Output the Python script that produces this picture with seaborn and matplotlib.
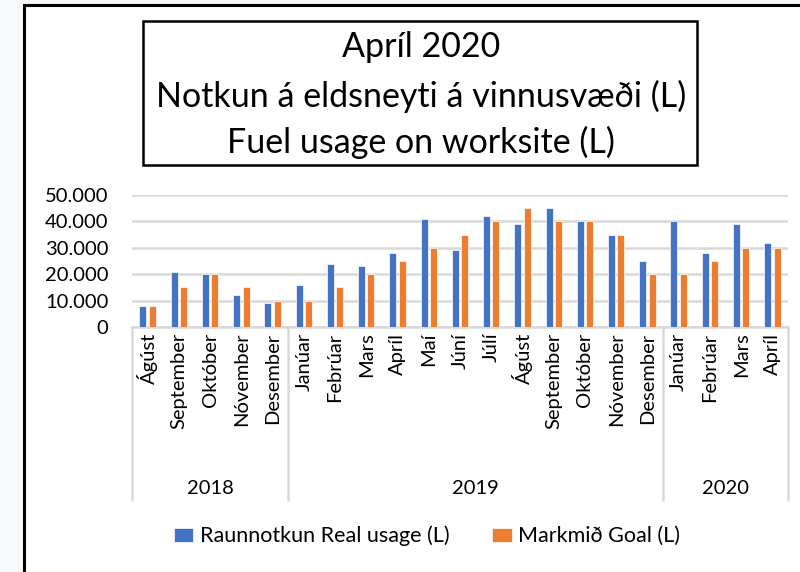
import numpy as np
import pandas as pd
import seaborn as sns
import matplotlib
import matplotlib.pyplot as plt
from matplotlib.patches import Rectangle
import matplotlib.transforms as mtransforms

# data
years = ["2018"] * 5 + ["2019"] * 12 + ["2020"] * 4
months = ["Ágúst", "September", "Október", "Nóvember", "Desember",
          "Janúar", "Febrúar", "Mars", "Apríl", "Maí", "Júní", "Júlí",
          "Ágúst", "September", "Október", "Nóvember", "Desember",
          "Janúar", "Febrúar", "Mars", "Apríl"]
real_usage = [8000, 21000, 20000, 12000, 9000,
              16000, 24000, 23000, 28000, 41000, 29000, 42000,
              39000, 45000, 40000, 35000, 25000,
              40000, 28000, 39000, 32000]
goal = [8000, 15000, 20000, 15000, 10000,
        10000, 15000, 20000, 25000, 30000, 35000, 40000,
        45000, 40000, 40000, 35000, 20000,
        20000, 25000, 30000, 30000]
yticks = [0, 10000, 20000, 30000, 40000, 50000]

label_real = "Raunnotkun Real usage (L)"
label_goal = "Markmið Goal (L)"

keys = [y + "-" + m for y, m in zip(years, months)]
df = pd.concat([
    pd.DataFrame({"key": keys, "value": real_usage, "series": label_real}),
    pd.DataFrame({"key": keys, "value": goal, "series": label_goal}),
])

sns.set_theme(style="white")
plt.rcParams['font.family'] = ['Lato', 'DejaVu Sans']
plt.rcParams['text.color'] = 'black'
plt.rcParams['xtick.color'] = 'black'
plt.rcParams['ytick.color'] = 'black'

fig = plt.figure(figsize=(8, 5.72), dpi=100)
fig.patch.set_facecolor("#f7f8fa")
# outer white frame
fig.patches.append(Rectangle((24 / 800, -0.1), 1.0, 1 - 5 / 572 + 0.1,
                             transform=fig.transFigure, facecolor="white",
                             edgecolor="black", linewidth=2.2, zorder=-5))

ax = fig.add_axes([132 / 800, 1 - 327 / 572, (788 - 132) / 800, (327 - 195) / 572])
ax.set_facecolor("white")

sns.barplot(data=df, x="key", y="value", hue="series", order=keys,
            palette=["#4472C4", "#ED7D31"], saturation=1, width=0.6, gap=0.25,
            edgecolor="white", linewidth=0.5, legend=True, ax=ax, zorder=3)

ax.set_xlim(-0.5, len(keys) - 0.5)
ax.set_ylim(0, 50000)
ax.set_yticks(yticks)
ax.set_yticklabels([f"{v:,.0f}".replace(",", ".") for v in yticks], fontsize=14.5)
ax.set_xticks(range(len(keys)))
ax.set_xticklabels(months, rotation=90, fontsize=14.5, va="top")
ax.tick_params(axis="both", length=0)
ax.tick_params(axis="y", pad=17)
ax.tick_params(axis="x", pad=4)
ax.set_xlabel("")
ax.set_ylabel("")
ax.grid(axis="y", color="#d9d9d9", linewidth=1.8, zorder=0)
ax.set_axisbelow(True)
for s in ["top", "right", "left"]:
    ax.spines[s].set_visible(False)
ax.spines["bottom"].set_color("#d9d9d9")
ax.spines["bottom"].set_linewidth(1.8)

# year groups on the category axis
trans = mtransforms.blended_transform_factory(ax.transData, ax.transAxes)
group_names = list(dict.fromkeys(years))
bounds = [-0.5]
for g in group_names:
    bounds.append(bounds[-1] + years.count(g))
for b in bounds:
    ax.plot([b, b], [0, -1.31], transform=trans, color="#d9d9d9",
            linewidth=1.8, clip_on=False)
for i, g in enumerate(group_names):
    ax.text((bounds[i] + bounds[i + 1]) / 2, -1.22, g, transform=trans,
            ha="center", va="center", fontsize=14.5)

# legend
leg = ax.legend(loc="center", bbox_to_anchor=(427 / 800, 1 - 536 / 572),
                bbox_transform=fig.transFigure, ncol=2, frameon=False,
                fontsize=15.5, handlelength=0.9, handleheight=0.65,
                handletextpad=0.3, columnspacing=2.0)

# title box
fig.patches.append(Rectangle((143 / 800, 1 - 165 / 572), (697 - 143) / 800, (165 - 21) / 572,
                             transform=fig.transFigure, facecolor="white",
                             edgecolor="black", linewidth=1.8, zorder=1))
title_lines = ["Apríl 2020", "Notkun á eldsneyti á vinnusvæði (L)", "Fuel usage on worksite (L)"]
for line, ypix in zip(title_lines, [47, 96, 142]):
    fig.text(421 / 800, 1 - ypix / 572, line, ha="center", va="center", fontsize=24.5)

plt.savefig("out.png", dpi=100)
